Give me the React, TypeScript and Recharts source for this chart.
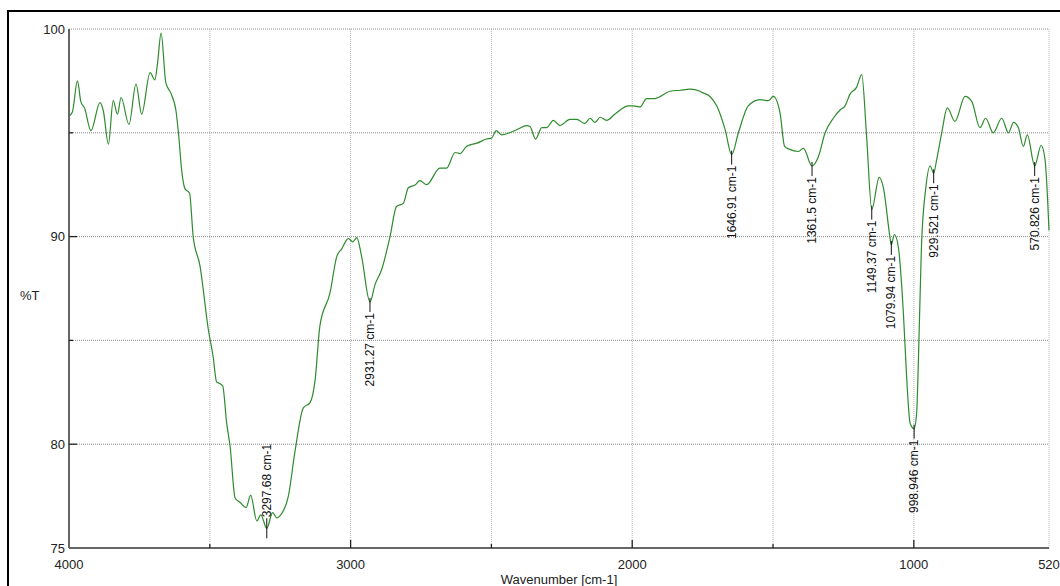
import { LineChart, Line, XAxis, YAxis, CartesianGrid, ReferenceDot } from 'recharts';

const wavenumbers = [
  4000, 3988, 3970, 3958, 3945, 3922, 3890, 3878, 3860, 3843, 3828, 3815, 3787, 3762, 3742, 3712,
  3695, 3686, 3673, 3656, 3638, 3620, 3610, 3600, 3588, 3572, 3559, 3535, 3505, 3488, 3476, 3462,
  3454, 3440, 3428, 3410, 3393, 3371, 3355, 3333, 3319, 3297.68, 3277, 3262, 3251, 3221, 3197, 3168,
  3144, 3126, 3109, 3073, 3049, 3032, 3008, 2992, 2978, 2961, 2931.27, 2913, 2890, 2860, 2837, 2813,
  2795, 2770, 2754, 2730, 2683, 2659, 2629, 2611, 2588, 2552, 2517, 2499, 2483, 2463, 2410, 2375,
  2363, 2343, 2321, 2304, 2280, 2257, 2221, 2197, 2168, 2150, 2132, 2114, 2091, 2061, 2014, 1996,
  1972, 1949, 1919, 1866, 1830, 1795, 1759, 1753, 1724, 1700, 1670, 1646.91, 1623, 1588, 1546, 1517,
  1499, 1475, 1459, 1441, 1410, 1392, 1361.5, 1339, 1315, 1286, 1262, 1244, 1227, 1203, 1185, 1168,
  1149.37, 1123, 1108, 1085, 1079.94, 1069, 1055, 1037, 1025, 1013, 998.946, 990, 985, 973, 957, 942,
  929.521, 919, 901, 881, 854, 818, 794, 765, 745, 718, 688, 664, 646, 629, 611, 597,
  570.826, 548, 534, 520,
];

const transmittance = [
  95.8, 96.0, 97.5, 96.5, 96.2, 95.1, 96.45, 96.05, 94.45, 96.55, 95.9, 96.7, 95.4, 97.35, 95.9, 97.9,
  97.55, 98.3, 99.8, 97.4, 96.9, 96.05, 94.8, 93.2, 92.3, 92.1, 90.0, 88.6, 85.5, 84.2, 83.0, 82.9,
  82.8, 81.0, 79.9, 77.4, 77.2, 76.95, 77.55, 76.3, 76.6, 75.95, 76.7, 76.45, 76.55, 77.5, 79.7, 81.75,
  82.0, 83.1, 85.7, 87.3, 89.05, 89.4, 89.9, 89.75, 89.95, 89.05, 86.85, 87.7, 88.4, 90.0, 91.45, 91.6,
  92.35, 92.5, 92.7, 92.5, 93.3, 93.3, 94.05, 94.0, 94.35, 94.5, 94.7, 94.75, 95.1, 94.9, 95.15, 95.35,
  95.3, 94.7, 95.25, 95.25, 95.6, 95.35, 95.65, 95.65, 95.45, 95.7, 95.5, 95.75, 95.6, 95.9, 96.3, 96.3,
  96.25, 96.65, 96.65, 97.0, 97.05, 97.1, 97.0, 96.95, 96.75, 96.3, 95.15, 93.95, 95.0, 96.3, 96.6, 96.55,
  96.75, 95.95, 94.35, 94.2, 94.1, 94.25, 93.4, 93.85, 95.0, 95.7, 96.1, 96.3, 96.85, 97.2, 97.8, 94.9,
  91.3, 92.85, 92.35, 90.0, 89.6, 90.1, 89.5, 86.3, 83.1, 81.0, 80.75, 81.5, 83.4, 89.5, 92.4, 93.4,
  93.05, 93.7, 95.0, 96.2, 95.55, 96.75, 96.5, 95.25, 95.7, 95.0, 95.7, 95.0, 95.5, 95.25, 94.35, 94.9,
  93.4, 94.4, 93.7, 90.3,
];

const xTicks = [4000, 3500, 3000, 2500, 2000, 1500, 1000, 520];
const xTickLabels = [4000, 3000, 2000, 1000, 520];
const yTicks = [75, 80, 85, 90, 95, 100];
const yTickLabels = [75, 80, 90, 100];

const peaks = [3297.68, 2931.27, 1646.91, 1361.5, 1149.37, 1079.94, 998.946, 929.521, 570.826];
const peakLabels = [
  '3297.68 cm-1', '2931.27 cm-1', '1646.91 cm-1', '1361.5 cm-1', '1149.37 cm-1',
  '1079.94 cm-1', '998.946 cm-1', '929.521 cm-1', '570.826 cm-1',
];
const peaksAbove = [3297.68];

const data = wavenumbers.map((w, i) => ({ w, t: transmittance[i] }));

const FONT = '"Liberation Sans", Arial, sans-serif';
const FRAME = { stroke: '#666666', strokeWidth: 2 };

const XTick = ({ x, y, payload }: any) => {
  const v = payload.value;
  const major = xTickLabels.includes(v);
  const showLine = v !== 4000 && v !== 520;
  return (
    <g>
      {showLine && (
        <line x1={x} x2={x} y1={y} y2={y - (major ? 8 : 4)} stroke="#222" strokeWidth={1.3} />
      )}
      {major && (
        <text x={x} y={y + 16} textAnchor="middle" dominantBaseline="central"
          fontSize={13} fontFamily={FONT} fill="#222">{v}</text>
      )}
    </g>
  );
};

const YTick = ({ x, y, payload }: any) => {
  const v = payload.value;
  const major = yTickLabels.includes(v);
  const showLine = v !== 75 && v !== 100;
  return (
    <g>
      {showLine && (
        <line x1={x} x2={x + (major ? 8 : 4)} y1={y} y2={y} stroke="#222" strokeWidth={1.3} />
      )}
      {major && (
        <text x={x - 4} y={v === 75 ? y + 0.5 : y} textAnchor="end" dominantBaseline="central"
          fontSize={13} fontFamily={FONT} fill="#222">{v}</text>
      )}
    </g>
  );
};

const PeakMark = ({ cx, cy, text, above }: any) => {
  if (cx == null || cy == null) return null;
  const ty = above ? cy - 11 : cy + 11;
  return (
    <g>
      <line x1={cx} x2={cx} y1={cy - (above ? 10 : 4)} y2={cy + 10} stroke="#111" strokeWidth={1} />
      <text
        x={cx}
        y={ty}
        transform={`rotate(-90 ${cx} ${ty})`}
        textAnchor={above ? 'start' : 'end'}
        dominantBaseline="central"
        fontSize={12}
        fontFamily={FONT}
        fill="#111"
      >
        {text}
      </text>
    </g>
  );
};

export default function App() {
  return (
    <div style={{ position: 'fixed', left: 0, top: 0, width: 1060, height: 586, overflow: 'hidden', background: '#fff' }}>
      {/* outer frame, runs off the right and bottom edges */}
      <div style={{ position: 'absolute', left: 7, top: 10, width: 1100, height: 700, border: '2px solid #000' }} />

      <div style={{ position: 'absolute', left: 0, top: 0 }}>
        <LineChart width={1060} height={586} data={data} margin={{ top: 29, right: 11, bottom: 8, left: 9 }}>
          <CartesianGrid horizontal={false} stroke="#b8b8b8" strokeDasharray="1 1" />
          <CartesianGrid vertical={false} stroke="#8a8a8a" strokeDasharray="1 1" />
          <XAxis
            dataKey="w"
            type="number"
            domain={[520, 4000]}
            reversed
            ticks={xTicks}
            interval={0}
            tickLine={false}
            axisLine={FRAME}
            tickSize={0}
            tickMargin={0}
            height={30}
            tick={XTick}
          />
          <XAxis
            xAxisId="top"
            orientation="top"
            dataKey="w"
            type="number"
            domain={[520, 4000]}
            reversed
            ticks={xTicks}
            tick={false}
            tickLine={false}
            axisLine={FRAME}
            height={0}
          />
          <YAxis
            type="number"
            domain={[75, 100]}
            ticks={yTicks}
            interval={0}
            tickLine={false}
            axisLine={FRAME}
            tickSize={0}
            tickMargin={0}
            width={60}
            tick={YTick}
          />
          <YAxis
            yAxisId="right"
            orientation="right"
            type="number"
            domain={[75, 100]}
            ticks={yTicks}
            tick={false}
            tickLine={false}
            axisLine={FRAME}
            width={0}
          />
          <Line
            type="monotone"
            dataKey="t"
            stroke="#2e8b2e"
            strokeWidth={1.2}
            dot={false}
            isAnimationActive={false}
          />
          {peaks.map((p, i) => (
            <ReferenceDot
              key={p}
              x={p}
              y={transmittance[wavenumbers.indexOf(p)]}
              r={0}
              shape={(s: any) => (
                <PeakMark cx={s.cx} cy={s.cy} text={peakLabels[i]} above={peaksAbove.includes(p)} />
              )}
            />
          ))}
        </LineChart>
      </div>

      <div style={{ position: 'absolute', left: 20, top: 288, fontFamily: FONT, fontSize: 13, color: '#222', lineHeight: '15px' }}>%T</div>
      <div style={{ position: 'absolute', left: 559, top: 572, transform: 'translateX(-50%)', fontFamily: FONT, fontSize: 13, color: '#222', lineHeight: '15px', whiteSpace: 'nowrap' }}>
        Wavenumber [cm-1]
      </div>
    </div>
  );
}
